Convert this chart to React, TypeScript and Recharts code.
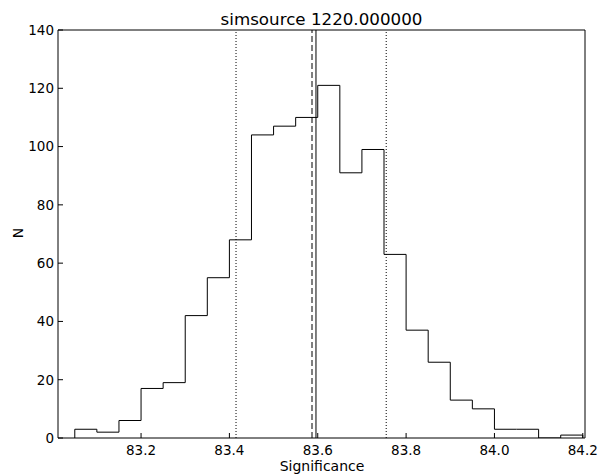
import React from 'react'
import {ComposedChart, Line, XAxis, YAxis, ReferenceLine} from 'recharts'

// histogram bins (left edges) and counts
const binEdges = [83.05, 83.10, 83.15, 83.20, 83.25, 83.30, 83.35, 83.40, 83.45, 83.50, 83.55, 83.60,
    83.65, 83.70, 83.75, 83.80, 83.85, 83.90, 83.95, 84.00, 84.05, 84.10, 84.15, 84.20]
const counts = [3, 2, 6, 17, 19, 42, 55, 68, 104, 107, 110, 121, 91, 99, 63, 37, 26, 13, 10, 3, 3, 0, 1]

const xTicks = [83.2, 83.4, 83.6, 83.8, 84.0, 84.2]
const yTicks = [0, 20, 40, 60, 80, 100, 120, 140]

const dottedLines = [83.415, 83.755]
const dashedLine = 83.587
const solidLine = 83.596

// outline of a step histogram
const steps: {x: number, n: number}[] = [{x: binEdges[0], n: 0}]
counts.forEach((c, i) => steps.push({x: binEdges[i], n: c}))
steps.push({x: binEdges[binEdges.length - 1], n: counts[counts.length - 1]})
steps.push({x: binEdges[binEdges.length - 1], n: 0})

const font = 'DejaVu Sans, sans-serif'
const tickStyle = {fontSize: 13.5, fill: '#000', fontFamily: font}

const App = () => {
    return (
        <div style={{position: 'absolute', left: 0, top: 0, width: 600, height: 474, fontFamily: font, color: '#000'}}>
            <ComposedChart width={600} height={474} data={steps}
                margin={{top: 29, right: 14, left: 0, bottom: 0}}>
                <XAxis dataKey="x" type="number" domain={[83.012, 84.205]} ticks={xTicks}
                    tickFormatter={(v: number) => v.toFixed(1)} height={36}
                    tickSize={-5} tickMargin={12} stroke="#000" tick={tickStyle} allowDataOverflow />
                <XAxis xAxisId="top" dataKey="x" type="number" orientation="top" domain={[83.012, 84.205]}
                    ticks={xTicks} height={1} tickSize={-5} tick={false} stroke="#000" allowDataOverflow />
                <YAxis domain={[0, 140]} ticks={yTicks} width={58} tickSize={-5} tickMargin={9}
                    stroke="#000" tick={tickStyle} allowDataOverflow />
                <YAxis yAxisId="right" orientation="right" domain={[0, 140]} ticks={yTicks} width={1}
                    tickSize={-5} tick={false} stroke="#000" />
                {dottedLines.map(v => (
                    <ReferenceLine key={v} x={v} stroke="#000" strokeDasharray="1 2" />
                ))}
                <ReferenceLine x={dashedLine} stroke="#000" strokeDasharray="6 3" />
                <ReferenceLine x={solidLine} stroke="#000" />
                <Line type="stepAfter" dataKey="n" stroke="#000" strokeWidth={1} dot={false}
                    isAnimationActive={false} />
            </ComposedChart>
            <div style={{position: 'absolute', left: 0, width: 643, top: 9, textAlign: 'center', fontSize: 16.7, lineHeight: '20px'}}>
                simsource 1220.000000
            </div>
            <div style={{position: 'absolute', left: 0, width: 644, top: 458, textAlign: 'center', fontSize: 14, lineHeight: '16px'}}>
                Significance
            </div>
            <div style={{position: 'absolute', left: 17.5, top: 232.5, fontSize: 14, lineHeight: '16px',
                transform: 'translate(-50%, -50%) rotate(-90deg)'}}>
                N
            </div>
        </div>
    )
}

export default App
